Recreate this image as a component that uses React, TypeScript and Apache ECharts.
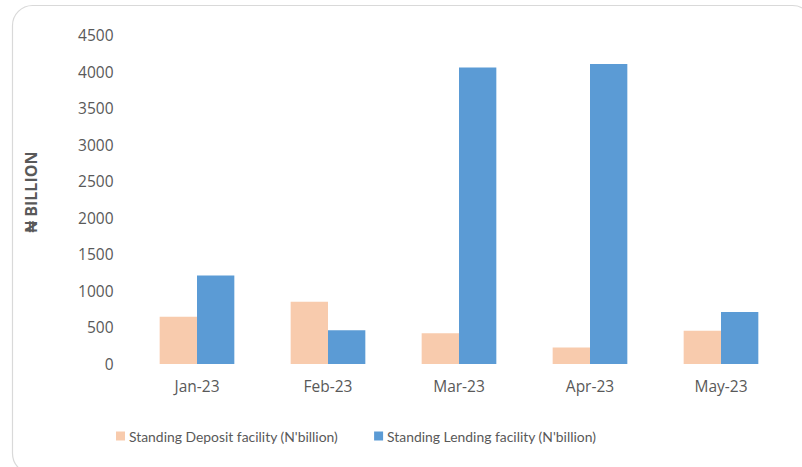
import React, { useEffect, useRef } from "react";
import * as echarts from "echarts";

const categories = ["Jan-23", "Feb-23", "Mar-23", "Apr-23", "May-23"];
const depositValues = [645, 850, 420, 225, 455];
const lendingValues = [1210, 460, 4055, 4105, 710];
const seriesNames = ["Standing Deposit facility (N'billion)", "Standing Lending facility (N'billion)"];
const yAxisTitle = "₦ BILLION";

export default function App() {
  const ref = useRef<HTMLDivElement>(null);
  useEffect(() => {
    if (!ref.current) return;
    const chart = echarts.init(ref.current, null, { renderer: "svg" });
    const font = "'Open Sans', sans-serif";
    const legendFont = "Lato, sans-serif";
    chart.setOption({
      animation: false,
      backgroundColor: "#ffffff",
      graphic: [
        {
          type: "rect",
          shape: { x: 12.5, y: 5.5, width: 800, height: 468, r: 20 },
          style: { fill: "none", stroke: "#d9d9d9", lineWidth: 1.2 },
          silent: true,
        },
        {
          type: "text",
          x: 31,
          y: 192,
          rotation: Math.PI / 2,
          style: {
            text: yAxisTitle,
            fill: "#595959",
            font: "bold 16px 'Open Sans', sans-serif",
            textAlign: "center",
            textVerticalAlign: "middle",
          },
          silent: true,
        },
      ],
      grid: { left: 131.5, right: 15.5, top: 35, bottom: 103 },
      legend: {
        bottom: 24,
        left: 116,
        padding: 0,
        itemWidth: 9,
        itemHeight: 9,
        itemGap: 36,
        icon: "rect",
        textStyle: { color: "#595959", fontSize: 13.9, fontFamily: legendFont, padding: [0, 0, 0, -1] },
        data: seriesNames,
      },
      xAxis: {
        type: "category",
        data: categories,
        axisLine: { show: false },
        axisTick: { show: false },
        axisLabel: { color: "#595959", fontSize: 15.5, fontFamily: font, margin: 14 },
      },
      yAxis: {
        type: "value",
        min: 0,
        max: 4500,
        interval: 500,
        axisLine: { show: false },
        axisTick: { show: false },
        splitLine: { show: false },
        axisLabel: {
          color: "#595959",
          fontSize: 15.5,
          fontFamily: font,
          margin: 18,
          formatter: (v: number) => String(v),
        },
      },
      series: [
        {
          name: seriesNames[0],
          type: "bar",
          data: depositValues,
          itemStyle: { color: "#F8CBAD" },
          barGap: "0%",
          barCategoryGap: "43%",
        },
        {
          name: seriesNames[1],
          type: "bar",
          data: lendingValues,
          itemStyle: { color: "#5B9BD5" },
          barGap: "0%",
          barCategoryGap: "43%",
        },
      ],
    });
    return () => chart.dispose();
  }, []);
  return <div ref={ref} style={{ width: 802, height: 467, position: "absolute", left: 0, top: 0 }} />;
}
